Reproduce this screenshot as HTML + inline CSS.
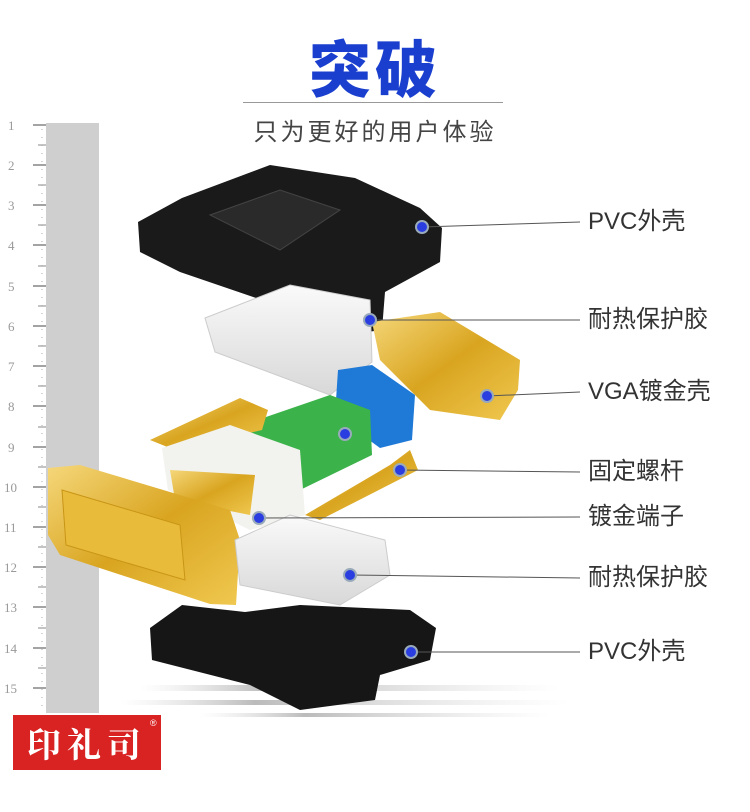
<!DOCTYPE html>
<html><head><meta charset="utf-8"><style>
body{margin:0;width:750px;height:812px;background:#fff;position:relative;overflow:hidden;font-family:"Liberation Sans","Noto Sans CJK SC",sans-serif}
.t{position:absolute;left:0;width:750px;text-align:center}
.lb{position:absolute;left:588px;font-size:24px;color:#333;line-height:1}
</style></head><body>
<div class="t" style="top:20px;font-size:62px;font-weight:900;color:#1a3fcf;letter-spacing:4px">突破</div>
<div style="position:absolute;left:243px;top:102px;width:260px;height:1px;background:#999"></div>
<div class="t" style="top:112px;font-size:24px;color:#444;letter-spacing:3px">只为更好的用户体验</div>
<svg width="750" height="812" style="position:absolute;left:0;top:0">
<defs>
<linearGradient id="g" x1="0" y1="0" x2="1" y2="1"><stop offset="0" stop-color="#f5d77a"/><stop offset=".5" stop-color="#d9a520"/><stop offset="1" stop-color="#f0c850"/></linearGradient>
<linearGradient id="w" x1="0" y1="0" x2="0" y2="1"><stop offset="0" stop-color="#fafafa"/><stop offset="1" stop-color="#d8d8d8"/></linearGradient>
<linearGradient id="r" x1="0" y1="0" x2="1" y2="0"><stop offset="0" stop-color="#ddd" stop-opacity="0"/><stop offset=".3" stop-color="#bbb"/><stop offset="1" stop-color="#ddd" stop-opacity="0"/></linearGradient>
</defs>
<rect x="46" y="123" width="53" height="590" fill="#cfcfcf"/>
<rect x="140" y="685" width="420" height="6" fill="url(#r)"/>
<rect x="120" y="700" width="450" height="5" fill="url(#r)"/>
<rect x="200" y="713" width="350" height="4" fill="url(#r)"/>
<path d="M138,222 L182,198 L270,165 L355,178 L420,208 L442,228 L440,262 L385,292 L382,330 L322,338 L262,300 L180,272 L140,252 Z" fill="#1a1a1a"/>
<path d="M210,215 L280,190 L340,210 L280,250 Z" fill="#2a2a2a" stroke="#444"/>
<path d="M205,318 L290,285 L370,300 L372,362 L330,395 L215,352 Z" fill="url(#w)" stroke="#ccc"/>
<path d="M372,322 L440,312 L520,360 L518,390 L500,420 L430,410 L380,360 Z" fill="url(#g)"/>
<path d="M338,370 L372,365 L415,395 L412,440 L380,448 L335,415 Z" fill="#1f79d6"/>
<path d="M228,430 L330,395 L370,410 L372,455 L300,490 L232,465 Z" fill="#3bb34a"/>
<path d="M150,440 L240,398 L268,410 L262,430 L175,450 Z" fill="url(#g)"/>
<path d="M305,515 L390,465 L410,450 L418,470 L320,520 Z" fill="url(#g)"/>
<path d="M162,448 L230,425 L300,450 L305,515 L250,530 L168,490 Z" fill="#f2f2ee"/>
<path d="M170,470 L255,475 L250,515 L175,500 Z" fill="url(#g)"/>
<path d="M48,468 L80,465 L230,510 L240,540 L236,605 L210,604 L60,555 L48,535 Z" fill="url(#g)"/>
<path d="M62,490 L180,525 L185,580 L66,545 Z" fill="#e9bb3b" stroke="#c89515"/>
<path d="M235,540 L290,515 L385,540 L390,575 L340,605 L240,585 Z" fill="url(#w)" stroke="#ccc"/>
<path d="M150,628 L182,605 L245,612 L300,605 L410,610 L436,628 L430,660 L380,675 L375,700 L300,710 L250,685 L152,660 Z" fill="#161616"/>
<g stroke="#555" stroke-width="1">
<line x1="422" y1="227" x2="580" y2="222"/>
<line x1="370" y1="320" x2="580" y2="320"/>
<line x1="487" y1="396" x2="580" y2="392"/>
<line x1="400" y1="470" x2="580" y2="472"/>
<line x1="259" y1="518" x2="580" y2="517"/>
<line x1="350" y1="575" x2="580" y2="578"/>
<line x1="411" y1="652" x2="580" y2="652"/>
</g>
<g fill="#2a3de0" stroke="#9ab" stroke-width="2">
<circle cx="422" cy="227" r="6"/><circle cx="370" cy="320" r="6"/><circle cx="487" cy="396" r="6"/><circle cx="345" cy="434" r="6"/><circle cx="400" cy="470" r="6"/><circle cx="259" cy="518" r="6"/><circle cx="350" cy="575" r="6"/><circle cx="411" cy="652" r="6"/>
</g>
<rect x="13" y="715" width="148" height="55" fill="#d92222"/>
<text x="87" y="757" font-size="34" fill="#fff" text-anchor="middle" font-weight="bold" font-family="Liberation Serif,Noto Serif CJK SC,serif" letter-spacing="6">印礼司</text>
<text x="150" y="726" font-size="9" fill="#fff">®</text>
<g stroke="#666" stroke-width="1.2">
<line x1="33" y1="125" x2="46" y2="125"/><line x1="33" y1="165" x2="46" y2="165"/><line x1="33" y1="205" x2="46" y2="205"/><line x1="33" y1="245" x2="46" y2="245"/><line x1="33" y1="286" x2="46" y2="286"/><line x1="33" y1="326" x2="46" y2="326"/><line x1="33" y1="366" x2="46" y2="366"/><line x1="33" y1="406" x2="46" y2="406"/><line x1="33" y1="447" x2="46" y2="447"/><line x1="33" y1="487" x2="46" y2="487"/><line x1="33" y1="527" x2="46" y2="527"/><line x1="33" y1="567" x2="46" y2="567"/><line x1="33" y1="607" x2="46" y2="607"/><line x1="33" y1="648" x2="46" y2="648"/><line x1="33" y1="688" x2="46" y2="688"/>
</g>
<path d="M38 145H46M38 185H46M38 225H46M38 266H46M38 306H46M38 346H46M38 386H46M38 427H46M38 467H46M38 507H46M38 547H46M38 587H46M38 628H46M38 668H46" stroke="#888" stroke-width="1"/>
<g stroke="#aaa" stroke-width="1" stroke-dasharray="1 7"><line x1="42" y1="129" x2="42" y2="710"/></g>
<g fill="#999" font-size="13" font-family="Liberation Serif,serif">
<text x="8" y="130">1</text><text x="8" y="170">2</text><text x="8" y="210">3</text><text x="8" y="250">4</text><text x="8" y="291">5</text><text x="8" y="331">6</text><text x="8" y="371">7</text><text x="8" y="411">8</text><text x="8" y="452">9</text><text x="4" y="492">10</text><text x="4" y="532">11</text><text x="4" y="572">12</text><text x="4" y="612">13</text><text x="4" y="653">14</text><text x="4" y="693">15</text>
</g>
</svg>
<div class="lb" style="top:210px">PVC外壳</div>
<div class="lb" style="top:308px">耐热保护胶</div>
<div class="lb" style="top:380px">VGA镀金壳</div>
<div class="lb" style="top:460px">固定螺杆</div>
<div class="lb" style="top:505px">镀金端子</div>
<div class="lb" style="top:566px">耐热保护胶</div>
<div class="lb" style="top:640px">PVC外壳</div>
</body></html>
